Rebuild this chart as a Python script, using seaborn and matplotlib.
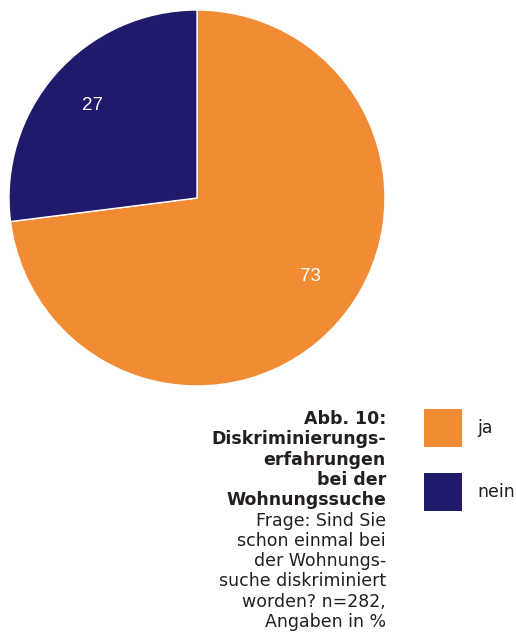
import matplotlib
matplotlib.use("Agg")
import matplotlib.pyplot as plt
import seaborn as sns
from matplotlib.patches import Patch

# data
labels = ["ja", "nein"]
values = [73, 27]
colors = ["#F28C34", "#1F1A6B"]

title_lines = ["Abb. 10:", "Diskriminierungs-", "erfahrungen", "bei der", "Wohnungssuche"]
note_lines = ["Frage: Sind Sie", "schon einmal bei", "der Wohnungs-",
              "suche diskriminiert", "worden? n=282,", "Angaben in %"]

sns.set_theme(style="white")
plt.rcParams["font.family"] = ["DejaVu Sans"]

W, H = 516, 640
fig = plt.figure(figsize=(W / 100, H / 100), dpi=100)

# pie
ax = fig.add_axes([9 / W, (H - 386) / H, 376 / W, 376 / H])
wedges, texts, autotexts = ax.pie(
    values,
    colors=colors,
    startangle=90,
    counterclock=False,
    autopct=lambda p: f"{p:.0f}",
    pctdistance=0.74,
    wedgeprops=dict(edgecolor="white", linewidth=1),
    textprops=dict(color="white", fontsize=13.5, family="Liberation Sans"),
)
ax.set_xlim(-1, 1)
ax.set_ylim(-1, 1)
ax.set_aspect("equal")
# nudge the big label a bit up/right like the original
x0, y0 = autotexts[0].get_position()
autotexts[0].set_position((x0 + 0.05, y0 + 0.07))

# caption, right aligned
x_right = 386 / W
y = 424
for line in title_lines:
    fig.text(x_right, 1 - y / H, line, ha="right", va="baseline",
             fontsize=12.5, fontweight="bold", color="#231F20")
    y += 20.3
for line in note_lines:
    fig.text(x_right, 1 - y / H, line, ha="right", va="baseline",
             fontsize=12.5, color="#231F20")
    y += 20.3

# legend
handles = [Patch(facecolor=c, edgecolor="none") for c in colors]
fig.legend(handles, labels, loc="upper left", bbox_to_anchor=(417 / W, 1 - 402 / H),
           frameon=False, fontsize=12.5, handlelength=2.19, handleheight=3.0,
           labelspacing=1.5, handletextpad=0.86, borderaxespad=0,
           labelcolor="#231F20")

fig.savefig("out.png", dpi=100)
